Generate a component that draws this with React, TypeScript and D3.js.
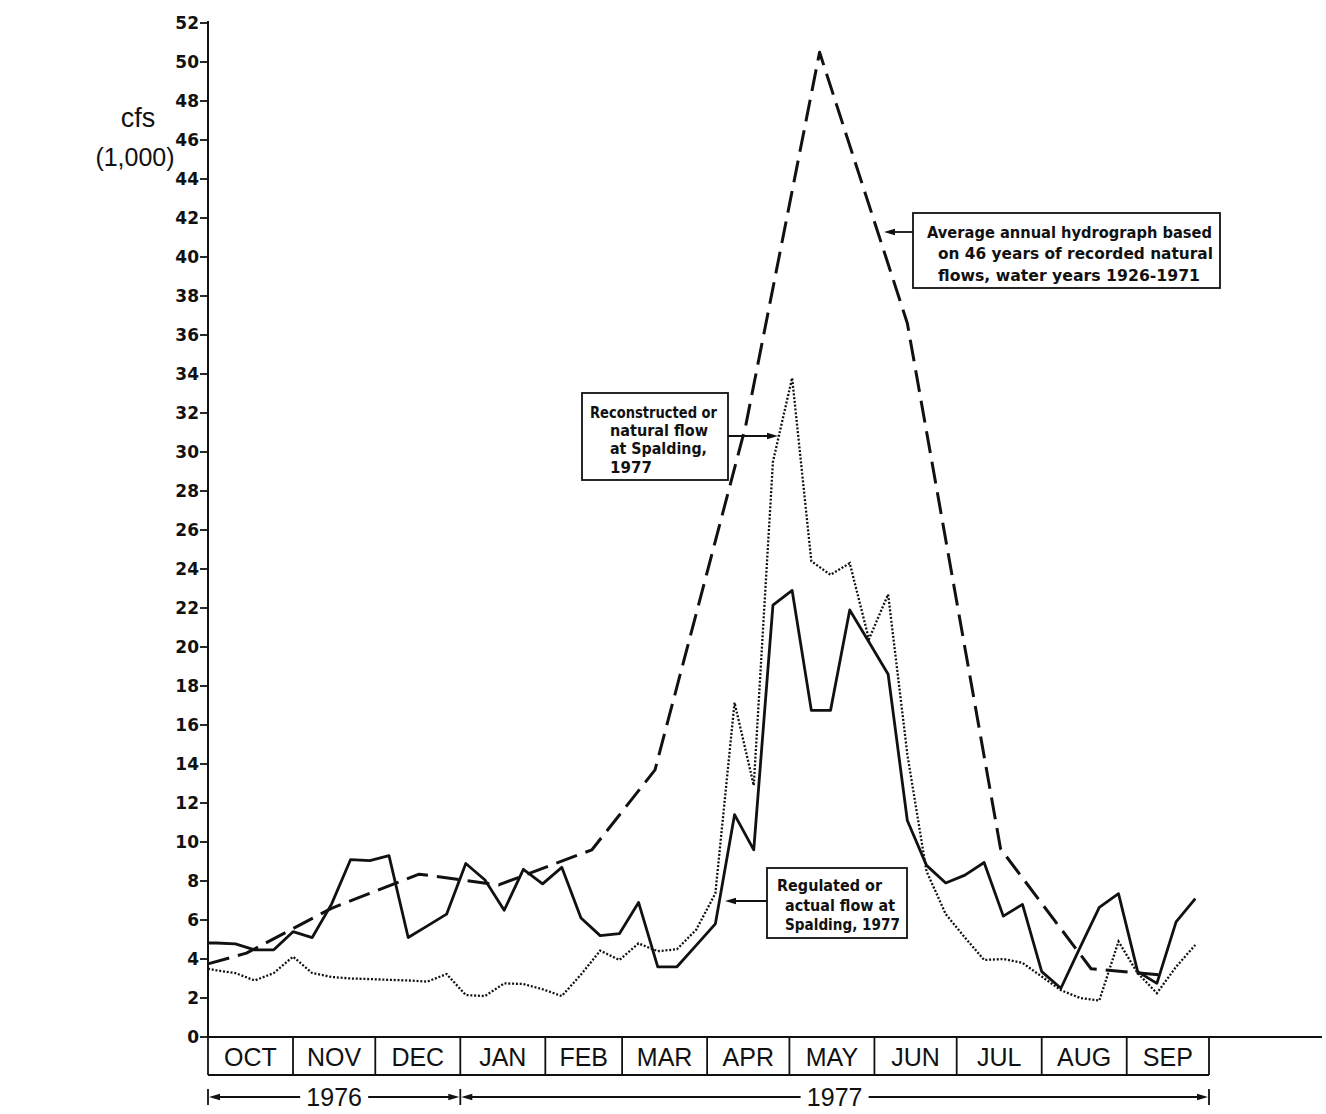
import React from "react";
import * as d3 from "d3";

// Water year 1976-77, Clearwater River flows at Spalding (thousands of cfs)
const monthLabels = ["OCT", "NOV", "DEC", "JAN", "FEB", "MAR", "APR", "MAY", "JUN", "JUL", "AUG", "SEP"];
const yTickValues = [0, 2, 4, 6, 8, 10, 12, 14, 16, 18, 20, 22, 24, 26, 28, 30, 32, 34, 36, 38, 40, 42, 44, 46, 48, 50, 52];
const yearLabels = ["1976", "1977"];

const waterYearStart = "1976-10-01";
const waterYearEnd = "1977-10-01";
const firstWeeklyReading = "1976-10-04";

// Regulated (actual) flow: value on Oct 1, then one reading per week
const regulatedOct1 = 4.82;
const regulatedWeekly = [
  4.82, 4.78, 4.47, 4.47, 5.4, 5.1, 6.8, 9.1, 9.05, 9.3, 5.1, 5.7, 6.3,
  8.9, 8.05, 6.5, 8.6, 7.85, 8.7, 6.1, 5.2, 5.3, 6.9, 3.6, 3.6, 4.7,
  5.8, 11.4, 9.6, 22.15, 22.9, 16.75, 16.75, 21.9, 20.26, 18.6, 11.1, 8.8, 7.9,
  8.3, 8.95, 6.2, 6.8, 3.35, 2.5, 4.6, 6.65, 7.35, 3.35, 2.75, 5.9, 7.1,
];

// Reconstructed (natural) flow
const naturalOct1 = 3.5;
const naturalWeekly = [
  3.42, 3.28, 2.9, 3.28, 4.12, 3.28, 3.08, 3.0, 2.97, 2.93, 2.9, 2.84, 3.23,
  2.15, 2.1, 2.75, 2.72, 2.45, 2.1, 3.2, 4.43, 3.95, 4.8, 4.4, 4.5, 5.5,
  7.36, 17.15, 12.9, 29.5, 33.8, 24.4, 23.7, 24.3, 20.4, 22.7, 14.5, 8.5, 6.3,
  5.1, 3.95, 4.0, 3.8, 3.1, 2.4, 2.0, 1.87, 4.9, 3.27, 2.25, 3.6, 4.72,
];

// Average annual hydrograph, 1926-1971
const averageDates = [
  "1976-10-01", "1976-10-15", "1976-11-15", "1976-12-17", "1977-01-15", "1977-02-18",
  "1977-03-13", "1977-04-15", "1977-05-12", "1977-06-13", "1977-07-17", "1977-08-19", "1977-09-14",
];
const averageFlow = [3.75, 4.3, 6.6, 8.35, 7.8, 9.6, 13.7, 31.3, 50.5, 36.6, 9.65, 3.5, 3.17];

const W = 1326;
const H = 1114;
const parse = d3.timeParse("%Y-%m-%d");

type Pt = { date: Date; value: number };

function weeklySeries(first: number, weekly: number[]): Pt[] {
  const start = parse(waterYearStart) as Date;
  const wk0 = parse(firstWeeklyReading) as Date;
  return [{ date: start, value: first }].concat(
    weekly.map((v, i) => ({ date: d3.timeDay.offset(wk0, 7 * i), value: v }))
  );
}

function Arrow({ x1, x2, y }: { x1: number; x2: number; y: number }) {
  // line from x1 to x2 with a filled head at x2
  const dir = Math.sign(x2 - x1);
  const len = 11;
  const half = 3.2;
  return (
    <g>
      <line x1={x1} y1={y} x2={x2 - dir * 4} y2={y} stroke="#111" strokeWidth={1.8} />
      <path
        d={`M${x2},${y} L${x2 - dir * len},${y - half} L${x2 - dir * len},${y + half} Z`}
        fill="#111"
      />
    </g>
  );
}

type NoteLine = { text: string; x: number; y: number; w: number };

function Note({ lines }: { lines: NoteLine[] }) {
  return (
    <g>
      {lines.map((l) => (
        <text key={l.text} x={l.x} y={l.y} textLength={l.w} lengthAdjust="spacingAndGlyphs">
          {l.text}
        </text>
      ))}
    </g>
  );
}

export default function App() {
  const start = parse(waterYearStart) as Date;
  const end = parse(waterYearEnd) as Date;

  const x = d3.scaleTime().domain([start, end]).range([208, 1209]);
  const y = d3.scaleLinear().domain([0, 52]).range([1037, 1037 - 52 * 19.5]);

  const line = d3
    .line<Pt>()
    .x((d) => x(d.date))
    .y((d) => y(d.value));

  const regulated = weeklySeries(regulatedOct1, regulatedWeekly);
  const natural = weeklySeries(naturalOct1, naturalWeekly);
  const average: Pt[] = averageDates.map((d, i) => ({ date: parse(d) as Date, value: averageFlow[i] }));

  const monthStarts = d3.timeMonth.range(start, end);
  const boxTop = y(0);
  const boxBottom = 1075;
  const yearY = 1097;
  const jan1 = parse("1977-01-01") as Date;

  const tickFont = "'DejaVu Sans', sans-serif";
  const noteFont = "'DejaVu Sans', sans-serif";
  const plainFont = "'Liberation Sans', Arial, sans-serif";
  const ink = "#111";

  const yearSpans = [
    { label: yearLabels[0], a: x(start), b: x(jan1) },
    { label: yearLabels[1], a: x(jan1), b: x(end) },
  ];

  return (
    <svg
      width={W}
      height={H}
      viewBox={`0 0 ${W} ${H}`}
      style={{ position: "absolute", left: 0, top: 0, display: "block", background: "#ffffff" }}
    >
      <rect x={0} y={0} width={W} height={H} fill="#ffffff" />

      {/* unit label */}
      <text x={138} y={127} textAnchor="middle" fontFamily={plainFont} fontSize={27} fill={ink}>
        cfs
      </text>
      <text x={135} y={166} textAnchor="middle" fontFamily={plainFont} fontSize={25} fill={ink}>
        (1,000)
      </text>

      {/* y axis */}
      <line x1={x(start)} y1={y(0)} x2={x(start)} y2={y(52) - 2} stroke={ink} strokeWidth={2} />
      {yTickValues.map((t) => (
        <g key={t}>
          <line x1={x(start) - 8} x2={x(start)} y1={y(t)} y2={y(t)} stroke={ink} strokeWidth={1.8} />
          <text
            x={x(start) - 9}
            y={y(t)}
            dy="0.36em"
            textAnchor="end"
            fontFamily={tickFont}
            fontWeight="bold"
            fontSize={17}
            fill={ink}
          >
            {t}
          </text>
        </g>
      ))}

      {/* x axis and month boxes */}
      <line x1={x(start)} y1={boxTop} x2={1322} y2={boxTop} stroke={ink} strokeWidth={2} />
      <line x1={x(start)} y1={boxBottom} x2={x(end)} y2={boxBottom} stroke={ink} strokeWidth={1.8} />
      {monthStarts.concat([end]).map((m, i) => (
        <line key={i} x1={x(m)} x2={x(m)} y1={boxTop} y2={boxBottom} stroke={ink} strokeWidth={1.8} />
      ))}
      {monthStarts.map((m, i) => {
        const next = d3.timeMonth.offset(m, 1);
        return (
          <text
            key={monthLabels[i]}
            x={(x(m) + x(next)) / 2}
            y={1066}
            textAnchor="middle"
            fontFamily={plainFont}
            fontSize={25}
            fill={ink}
          >
            {monthLabels[i]}
          </text>
        );
      })}

      {/* water-year span bar */}
      {yearSpans.map((s) => {
        const c = (s.a + s.b) / 2;
        const gap = 34;
        return (
          <g key={s.label}>
            <Arrow x1={c - gap} x2={s.a + 1} y={yearY} />
            <Arrow x1={c + gap} x2={s.b - 1} y={yearY} />
            <text x={c} y={yearY + 9} textAnchor="middle" fontFamily={plainFont} fontSize={25} fill={ink}>
              {s.label}
            </text>
          </g>
        );
      })}
      {[x(start), x(jan1), x(end)].map((px, i) => (
        <line key={i} x1={px} x2={px} y1={yearY - 8} y2={yearY + 8} stroke={ink} strokeWidth={1.8} />
      ))}

      {/* series */}
      <path d={line(natural) || ""} fill="none" stroke={ink} strokeWidth={2.3} strokeDasharray="2 1.8" />
      <path
        d={line(average) || ""}
        fill="none"
        stroke={ink}
        strokeWidth={3}
        strokeDasharray="22 9"
        strokeLinejoin="round"
      />
      <path d={line(regulated) || ""} fill="none" stroke={ink} strokeWidth={2.8} strokeLinejoin="round" />

      {/* annotations */}
      <g fontFamily={noteFont} fontWeight="bold" fontSize={15} fill={ink}>
        <rect x={913} y={213} width={307} height={75} fill="#ffffff" stroke={ink} strokeWidth={1.8} />
        <Note
          lines={[
            { text: "Average annual hydrograph based", x: 927, y: 238, w: 285 },
            { text: "on 46 years of recorded natural", x: 938, y: 259, w: 275 },
            { text: "flows, water years 1926-1971", x: 938, y: 281, w: 262 },
          ]}
        />
        <Arrow x1={913} x2={884} y={232} />

        <rect x={582} y={393} width={146} height={87} fill="#ffffff" stroke={ink} strokeWidth={1.8} />
        <Note
          lines={[
            { text: "Reconstructed or", x: 590, y: 418, w: 127 },
            { text: "natural flow", x: 610, y: 436, w: 98 },
            { text: "at Spalding,", x: 610, y: 454, w: 97 },
            { text: "1977", x: 610, y: 473, w: 42 },
          ]}
        />
        <Arrow x1={728} x2={778} y={436} />

        <rect x={767} y={868} width={140} height={70} fill="#ffffff" stroke={ink} strokeWidth={1.8} />
        <Note
          lines={[
            { text: "Regulated or", x: 777, y: 891, w: 105 },
            { text: "actual flow at", x: 785, y: 911, w: 110 },
            { text: "Spalding, 1977", x: 785, y: 930, w: 115 },
          ]}
        />
        <Arrow x1={767} x2={725} y={901} />
      </g>
    </svg>
  );
}
